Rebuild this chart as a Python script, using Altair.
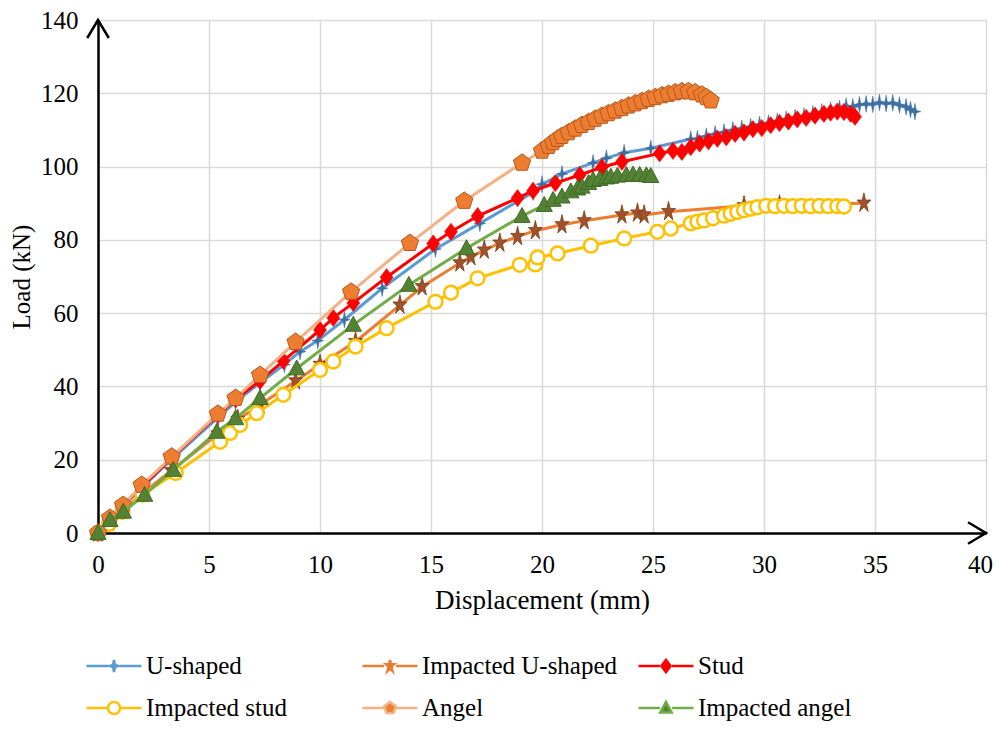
import altair as alt
import pandas as pd

SERIES = ["U-shaped", "Impacted U-shaped", "Stud", "Impacted stud", "Angel", "Impacted angel"]

X_TICKS = [0, 5, 10, 15, 20, 25, 30, 35, 40]
Y_TICKS = [0, 20, 40, 60, 80, 100, 120, 140]
X_MAX = 40
Y_MAX = 140

U_X = [0, 0.5, 1.1, 2.0, 3.3, 5.4, 6.2, 7.3, 8.4, 9.1, 9.9, 11.1, 12.8, 15.2, 17.2, 19.6, 20.0, 20.9,
       22.3, 22.9, 23.7, 24.9, 26.7, 27.0, 27.4, 27.8, 28.2, 28.6, 29.0, 29.4, 29.8, 30.2, 30.6, 31.0,
       31.4, 31.8, 32.2, 32.6, 33.0, 33.4, 33.7, 34.0, 34.3, 34.6, 34.9, 35.2, 35.5, 35.8, 36.1, 36.4,
       36.6, 36.8]
U_Y = [0, 3.5, 7.2, 12.5, 20.0, 31.5, 35.8, 41.0, 46.0, 49.5, 52.5, 58.2, 66.8, 77.5, 84.5, 93.0, 95.2, 98.0,
       101.0, 102.3, 103.8, 105.0, 107.5, 107.6, 108.3, 108.9, 109.4, 110.0, 110.4, 110.9, 111.5, 111.9, 112.4, 112.9,
       113.4, 113.8, 114.4, 114.9, 115.4, 115.9, 116.5, 116.3, 116.9, 117.1, 117.0, 117.5, 117.2, 117.4, 116.8, 116.3,
       115.6, 115.0]

IU_X = [0, 0.5, 1.1, 2.0, 3.3, 5.4, 6.3, 7.3, 8.9, 10.0, 11.6, 13.6, 14.6, 16.3, 16.8, 17.4, 18.1, 18.9,
        19.7, 20.9, 21.9, 23.6, 24.3, 24.6, 25.7, 29.1, 30.7, 34.5]
IU_Y = [0, 2.8, 6.2, 10.8, 17.0, 27.0, 31.0, 35.0, 41.5, 46.0, 52.2, 62.2, 67.2, 73.7, 75.4, 77.2, 79.1, 80.9,
        82.5, 84.1, 85.2, 86.8, 87.3, 86.8, 87.7, 89.3, 89.5, 90.0]

S_X = [0, 0.5, 1.1, 2.0, 3.3, 5.4, 6.2, 7.3, 8.35, 10.0, 10.6, 11.5, 13.0, 15.1, 15.9, 17.1, 18.9, 19.6,
       20.6, 21.7, 22.7, 23.6, 25.3, 25.9, 26.3, 26.7, 27.1, 27.5, 27.9, 28.3, 28.7, 29.1, 29.5, 29.9,
       30.3, 30.7, 31.1, 31.5, 31.9, 32.3, 32.7, 33.0, 33.3, 33.6, 33.9, 34.1]
S_Y = [0, 3.8, 7.5, 12.8, 20.5, 32.2, 36.5, 41.5, 47.0, 55.4, 58.7, 62.8, 69.8, 79.0, 82.2, 86.5, 91.4, 93.4,
       95.5, 97.7, 99.8, 101.3, 103.6, 104.3, 104.0, 105.3, 106.3, 106.9, 107.6, 108.0, 108.9, 109.3, 110.2, 110.5,
       111.3, 111.9, 112.3, 112.9, 113.3, 113.9, 114.4, 114.7, 115.0, 114.9, 114.4, 113.6]

IS_X = [0, 0.5, 1.1, 2.0, 3.5, 5.5, 5.95, 6.4, 7.15, 8.35, 10.0, 10.6, 11.6, 13.0, 15.2, 15.9, 17.1, 19.0,
        19.7, 19.8, 20.7, 22.2, 23.7, 25.2, 25.8, 26.7, 27.0, 27.3, 27.7, 28.2, 28.5, 28.8, 29.1, 29.4,
        29.7, 30.1, 30.5, 30.9, 31.3, 31.7, 32.1, 32.5, 32.9, 33.3, 33.6]
IS_Y = [0, 2.5, 5.8, 10.5, 16.4, 24.9, 27.3, 29.5, 32.7, 37.7, 44.5, 46.8, 50.9, 55.9, 63.1, 65.6, 69.5, 73.2,
        73.3, 75.2, 76.3, 78.4, 80.4, 82.2, 83.1, 84.5, 85.0, 85.3, 85.9, 86.6, 87.1, 87.6, 88.1, 88.5,
        88.9, 89.3, 89.2, 89.3, 89.2, 89.3, 89.2, 89.3, 89.2, 89.2, 89.1]

A_X = [0, 0.54, 1.13, 1.97, 3.32, 5.4, 6.2, 7.3, 8.9, 11.4, 14.05, 16.5, 19.1, 20.0, 20.3, 20.5, 20.7, 20.9,
       21.2, 21.5, 21.8, 22.1, 22.4, 22.7, 23.0, 23.3, 23.6, 23.9, 24.2, 24.5, 24.8, 25.1, 25.4, 25.7,
       26.0, 26.3, 26.6, 26.9, 27.2, 27.4, 27.6]
A_Y = [0, 4.1, 7.6, 13.1, 20.8, 32.5, 36.8, 43.1, 52.1, 65.8, 79.1, 90.6, 101.0, 104.3, 105.6, 106.6, 107.5, 108.3,
       109.3, 110.3, 111.3, 112.1, 113.0, 113.8, 114.5, 115.2, 115.9, 116.6, 117.2, 117.8, 118.4, 118.9, 119.4, 119.8,
       120.2, 120.5, 120.5, 120.2, 119.6, 118.9, 118.0]

IA_X = [0, 0.54, 1.14, 2.1, 3.39, 5.35, 6.2, 7.3, 8.95, 11.5, 14.0, 16.6, 19.1, 20.1, 20.5, 20.9, 21.3, 21.6,
        21.8, 22.1, 22.3, 22.6, 22.9, 23.1, 23.4, 23.8, 24.1, 24.4, 24.7, 24.9]
IA_Y = [0, 3.5, 5.8, 10.4, 17.2, 27.6, 31.3, 36.8, 44.9, 56.8, 67.7, 77.7, 86.5, 89.5, 90.9, 91.8, 93.2, 94.0,
        94.5, 95.5, 96.3, 96.6, 97.0, 97.2, 97.5, 97.7, 97.8, 97.7, 97.6, 97.4]

SERIES_X = [U_X, IU_X, S_X, IS_X, A_X, IA_X]
SERIES_Y = [U_Y, IU_Y, S_Y, IS_Y, A_Y, IA_Y]

# ---------- styles ----------
LINE_COLORS = ["#5B9BD5", "#ED7D31", "#FF0000", "#FFC000", "#F4B183", "#70AD47"]
MARKER_FILL = ["#3D6FA3", "#A0522D", "#FF0000", "#FFFFFF", "#ED7D31", "#548235"]
MARKER_STROKE = ["#3D6FA3", "#7F3A12", "#FF0000", "#FFC000", "#B9581C", "#3E6B25"]
MARKER_SW = [0.5, 0.8, 0.5, 2.5, 1.0, 1.0]
MARKER_SIZE = [280, 420, 300, 190, 330, 290]
FONT = "Liberation Serif"


def poly(pts, s=1.0):
    return "M" + "L".join(f"{x * s:.3f},{y * s:.3f}" for x, y in pts) + "Z"


PLUS4 = [(0, -1), (0.16, -0.16), (0.7, 0), (0.16, 0.16), (0, 1), (-0.16, 0.16), (-0.7, 0), (-0.16, -0.16)]
STAR5 = [(0, -1), (0.16, -0.307), (0.68, -0.309), (0.26, 0.117), (0.42, 0.809), (0, 0.38),
         (-0.42, 0.809), (-0.26, 0.117), (-0.68, -0.309), (-0.16, -0.307)]
DIAMOND = [(0, -1), (0.75, 0), (0, 1), (-0.75, 0)]
PENTA = [(0, -1), (0.951, -0.309), (0.588, 0.809), (-0.588, 0.809), (-0.951, -0.309)]
TRI = [(0, -1), (0.95, 0.75), (-0.95, 0.75)]

MARKER_SHAPES = [poly(PLUS4), poly(STAR5), poly(DIAMOND), "circle", poly(PENTA), poly(TRI)]

LS = 0.22
SEG = f"M-1,0L-{LS:.2f},0M{LS:.2f},0L1,0"
CIRC = f"M{LS},0A{LS},{LS} 0 1,1 -{LS},0A{LS},{LS} 0 1,1 {LS},0Z"
LEGEND_SHAPES = [SEG + poly(PLUS4, LS), SEG + poly(STAR5, LS), SEG + poly(DIAMOND, LS),
                 SEG + CIRC, SEG + poly(PENTA, LS), SEG + poly(TRI, LS)]

frames = []
for name, xs, ys in zip(SERIES, SERIES_X, SERIES_Y):
    frames.append(pd.DataFrame({"series": name, "x": xs, "y": ys, "i": range(len(xs))}))
all_df = pd.concat(frames, ignore_index=True)

x_axis = alt.Axis(values=X_TICKS, title="Displacement (mm)", labelFont=FONT, labelFontSize=25,
                  labelColor="black", titleFont=FONT, titleFontSize=27, titleFontWeight="normal",
                  titleColor="black", ticks=False, domainColor="black", domainWidth=2.5,
                  gridColor="#D9D9D9", gridWidth=1.5, labelPadding=19, titlePadding=10,
                  labelFlush=False, zindex=0,
                  labelOffset={"condition": {"test": "datum.value === 40", "value": -6}, "value": 0})
y_axis = alt.Axis(values=Y_TICKS, title="Load (kN)", labelFont=FONT, labelFontSize=25,
                  labelColor="black", titleFont=FONT, titleFontSize=25, titleFontWeight="normal",
                  titleColor="black", ticks=False, domainColor="black", domainWidth=2.5,
                  gridColor="#D9D9D9", gridWidth=1.5, labelPadding=20, titlePadding=6,
                  labelFlush=False, zindex=0)
X = alt.X("x:Q", scale=alt.Scale(domain=[0, X_MAX], nice=False), axis=x_axis)
Y = alt.Y("y:Q", scale=alt.Scale(domain=[0, Y_MAX], nice=False), axis=y_axis)

layers = []
for k, df in enumerate(frames):
    layers.append(alt.Chart(df).mark_line(color=LINE_COLORS[k], strokeWidth=3).encode(
        x=X, y=Y, order=alt.Order("i:Q")))
    layers.append(alt.Chart(df).mark_point(
        shape=MARKER_SHAPES[k], size=MARKER_SIZE[k], filled=True, fill=MARKER_FILL[k],
        stroke=MARKER_STROKE[k], strokeWidth=MARKER_SW[k], opacity=1).encode(x=X, y=Y))

LEG = alt.Legend(title=None, orient="none", legendX=-13, legendY=628, columns=3, direction="horizontal",
                 symbolSize=3025, symbolStrokeWidth=2.5, symbolOpacity=1,
                 labelFont=FONT, labelFontSize=25, labelColor="black", labelOffset=3,
                 columnPadding=19, rowPadding=6, clipHeight=36, gridAlign="all", labelLimit=400)

legend_layer = alt.Chart(all_df).mark_point(opacity=0, filled=True, strokeWidth=2.5).encode(
    x=X, y=Y,
    shape=alt.Shape("series:N", scale=alt.Scale(domain=SERIES, range=LEGEND_SHAPES), legend=LEG),
    fill=alt.Fill("series:N", scale=alt.Scale(domain=SERIES, range=MARKER_FILL), legend=LEG),
    stroke=alt.Stroke("series:N", scale=alt.Scale(domain=SERIES, range=LINE_COLORS), legend=LEG),
)

arrow_r = alt.Chart(pd.DataFrame({"x": [X_MAX], "y": [0]})).mark_point(
    shape="M-1,-0.6L0,0L-1,0.6", size=1296, filled=False, stroke="black", strokeWidth=2.5,
    opacity=1).encode(x=X, y=Y)
arrow_u = alt.Chart(pd.DataFrame({"x": [0], "y": [Y_MAX]})).mark_point(
    shape="M-0.6,1L0,0L0.6,1", size=1296, filled=False, stroke="black", strokeWidth=2.5,
    opacity=1).encode(x=X, y=Y)

chart = alt.layer(*layers, legend_layer, arrow_r, arrow_u).properties(
    width=888, height=513,
    autosize=alt.AutoSizeParams(type="none"),
    padding={"left": 90, "top": 12, "right": 8, "bottom": 190},
    background="white",
).configure_view(stroke=None)

chart.save("out.html", embed_options={"renderer": "svg", "actions": False})
